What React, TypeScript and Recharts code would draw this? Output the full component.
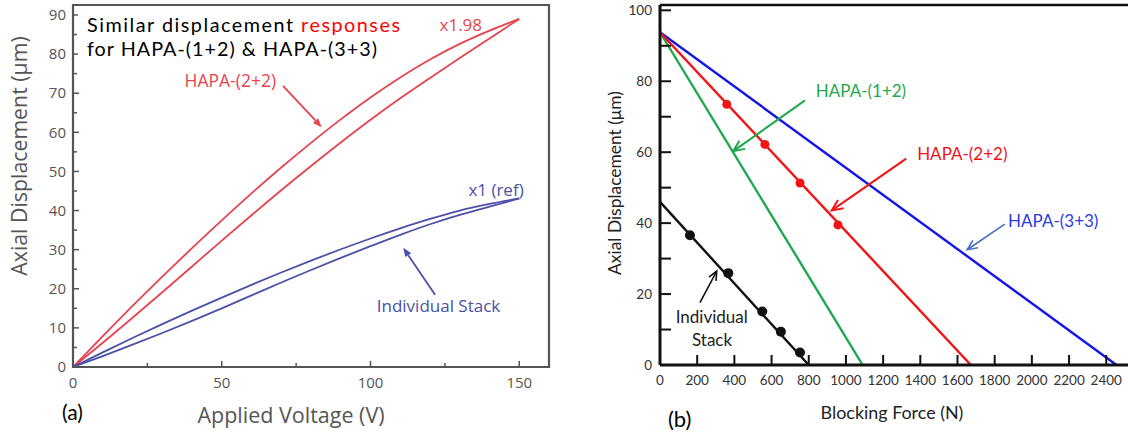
import React from 'react';
import { ComposedChart, Line, XAxis, YAxis, ReferenceLine, ReferenceDot, ReferenceArea } from 'recharts';

// ---------- Panel (a): displacement vs applied voltage ----------
const voltageTicks = [0, 25, 50, 75, 100, 125, 150];
const dispTicksA = [0, 5, 10, 15, 20, 25, 30, 35, 40, 45, 50, 55, 60, 65, 70, 75, 80, 85, 90];

const hapa22Rise: [number, number][] = [[0, 0], [10, 6.2], [20, 12.6], [30, 19.1], [40, 25.7], [50, 32.3], [60, 38.8], [70, 45.2], [80, 51.4], [90, 57.4], [100, 63.2], [110, 68.7], [120, 73.9], [130, 79.0], [140, 84.0], [150, 89.0]];
const hapa22Fall: [number, number][] = [[0, 0], [10, 7.9], [20, 15.6], [30, 23.1], [40, 30.4], [50, 37.5], [60, 44.4], [70, 51.0], [80, 57.3], [90, 63.3], [100, 68.9], [110, 74.0], [120, 78.6], [130, 82.6], [140, 86.0], [150, 89.0]];
const stackRise: [number, number][] = [[0, 0], [10, 2.8], [20, 5.7], [30, 8.7], [40, 11.8], [50, 15.0], [60, 18.3], [70, 21.6], [80, 24.8], [90, 27.9], [100, 30.9], [110, 33.8], [120, 36.5], [130, 38.9], [140, 41.0], [150, 43.1]];
const stackFall: [number, number][] = [[0, 0], [10, 3.75], [20, 7.4], [30, 10.95], [40, 14.4], [50, 17.75], [60, 21.0], [70, 24.15], [80, 27.2], [90, 30.1], [100, 32.85], [110, 35.45], [120, 37.85], [130, 40.0], [140, 41.7], [150, 43.1]];

// ---------- Panel (b): displacement vs blocking force ----------
const forceTicks = [0, 200, 400, 600, 800, 1000, 1200, 1400, 1600, 1800, 2000, 2200, 2400];
const dispTicksB = [0, 10, 20, 30, 40, 50, 60, 70, 80, 90, 100];

const hapa33Line: [number, number][] = [[0, 93.8], [2455, 0]];
const hapa22Line: [number, number][] = [[0, 93.8], [1672, 0]];
const hapa22Points: [number, number][] = [[359, 73.5], [564, 62.2], [753, 51.3], [957, 39.5]];
const hapa12Line: [number, number][] = [[0, 93.8], [1090, 0]];
const stackLine: [number, number][] = [[0, 46], [800, 0]];
const stackPoints: [number, number][] = [[161, 36.6], [367, 25.9], [550, 15.1], [650, 9.4], [753, 3.5]];

const toXY = (arr: [number, number][]) => arr.map(([x, y]) => ({ x, y }));

const A_RED = '#e5444f';
const A_BLUE = '#4a51a6';
const A_GRAY = '#555';
const B_BLUE = '#1414e8';
const B_RED = '#f01414';
const B_GREEN = '#1fa84e';
const B_BLACK = '#111';

const FONT_A = '"Open Sans", "Noto Sans", sans-serif';
const FONT_B = 'Lato, "Open Sans", sans-serif';

function makeArrow(color: string, width: number, head: 'solid' | 'open', len = 10, half = 4.5) {
  return (p: any) => {
    const { x1, y1, x2, y2 } = p;
    if ([x1, y1, x2, y2].some((v) => typeof v !== 'number' || isNaN(v))) return <g />;
    const a = Math.atan2(y2 - y1, x2 - x1);
    const c = Math.cos(a);
    const s = Math.sin(a);
    const bx = x2 - len * c;
    const by = y2 - len * s;
    const lx = bx - half * s;
    const ly = by + half * c;
    const rx = bx + half * s;
    const ry = by - half * c;
    return (
      <g>
        <line x1={x1} y1={y1} x2={head === 'solid' ? bx : x2} y2={head === 'solid' ? by : y2} stroke={color} strokeWidth={width} />
        {head === 'solid' ? (
          <polygon points={`${x2},${y2} ${lx},${ly} ${rx},${ry}`} fill={color} />
        ) : (
          <polyline points={`${lx},${ly} ${x2},${y2} ${rx},${ry}`} fill="none" stroke={color} strokeWidth={width} />
        )}
      </g>
    );
  };
}

function makeText(text: string, color: string, size: number, family: string, anchor: 'start' | 'middle' | 'end' = 'start') {
  return (p: any) => (
    <text x={p.cx} y={p.cy} dy="0.35em" fill={color} fontSize={size} fontFamily={family} textAnchor={anchor}>
      {text}
    </text>
  );
}

const XTickA = (props: any) => {
  const { x, y, payload } = props;
  const v = payload.value;
  const major = v % 50 === 0;
  return (
    <g>
      <line x1={x} x2={x} y1={y} y2={y - (major ? 6 : 4)} stroke={A_GRAY} strokeWidth={1.5} />
      {major && (
        <text x={x} y={y + 16} dy="0.35em" textAnchor="middle" fill={A_GRAY} fontSize={15} fontFamily={FONT_A}>
          {v}
        </text>
      )}
    </g>
  );
};

const YTickA = (props: any) => {
  const { x, y, payload } = props;
  const v = payload.value;
  const major = v % 10 === 0;
  return (
    <g>
      <line x1={x} x2={x + (major ? 6 : 4)} y1={y} y2={y} stroke={A_GRAY} strokeWidth={1.5} />
      {major && (
        <text x={x - 7} y={y} dy="0.35em" textAnchor="end" fill={A_GRAY} fontSize={15} fontFamily={FONT_A}>
          {v}
        </text>
      )}
    </g>
  );
};

const XTickB = (props: any) => {
  const { x, y, payload } = props;
  const v = payload.value;
  return (
    <g>
      <line x1={x} x2={x} y1={y} y2={y - 10} stroke={B_BLACK} strokeWidth={2} />
      <text x={x} y={y + 15} dy="0.35em" textAnchor="middle" fill="#333" fontSize={13.5} fontFamily={FONT_B}>
        {v}
      </text>
    </g>
  );
};

const YTickB = (props: any) => {
  const { x, y, payload } = props;
  const v = payload.value;
  const labeled = v % 20 === 0;
  return (
    <g>
      {v > 0 && <line x1={x} x2={x + 11} y1={y} y2={y} stroke={B_BLACK} strokeWidth={2} />}
      {labeled && (
        <text x={x - 8} y={y} dy="0.35em" textAnchor="end" fill="#333" fontSize={13.5} fontFamily={FONT_B}>
          {v}
        </text>
      )}
    </g>
  );
};

function PanelA() {
  const lineProps = { type: 'monotone' as const, dataKey: 'y', dot: false, isAnimationActive: false, strokeWidth: 1.8 };
  return (
    <ComposedChart width={560} height={434} margin={{ top: 5, right: 11, bottom: 36, left: 0 }}>
      <XAxis type="number" dataKey="x" domain={[0, 160]} ticks={voltageTicks} interval={0} allowDataOverflow axisLine={false} tickLine={false} tickSize={0} tickMargin={0} height={31} tick={<XTickA />} />
      <YAxis type="number" dataKey="y" domain={[0, 92.55]} ticks={dispTicksA} interval={0} allowDataOverflow axisLine={false} tickLine={false} tickSize={0} tickMargin={0} width={73} tick={<YTickA />} />
      <ReferenceArea x1={0} x2={160} y1={0} y2={92.55} fill="none" stroke={A_GRAY} strokeWidth={2.2} />
      <Line data={toXY(hapa22Rise)} stroke={A_RED} {...lineProps} />
      <Line data={toXY(hapa22Fall)} stroke={A_RED} {...lineProps} />
      <Line data={toXY(stackRise)} stroke={A_BLUE} {...lineProps} />
      <Line data={toXY(stackFall)} stroke={A_BLUE} {...lineProps} />
      <ReferenceLine segment={[{ x: 70.6, y: 71.9 }, { x: 83.6, y: 61.3 }]} shape={makeArrow(A_RED, 1.8, 'solid', 9, 3.5)} />
      <ReferenceLine segment={[{ x: 121.7, y: 18.5 }, { x: 111.0, y: 30.5 }]} shape={makeArrow(A_BLUE, 1.8, 'solid', 9, 3.5)} />
      <ReferenceDot x={123.2} y={87.4} r={0} shape={makeText('x1.98', A_RED, 17, FONT_A)} />
      <ReferenceDot x={37.5} y={73.1} r={0} shape={makeText('HAPA-(2+2)', A_RED, 17.5, FONT_A)} />
      <ReferenceDot x={132.9} y={45.3} r={0} shape={makeText('x1 (ref)', A_BLUE, 17, FONT_A)} />
      <ReferenceDot x={102.1} y={15.7} r={0} shape={makeText('Individual Stack', A_BLUE, 17, FONT_A)} />
    </ComposedChart>
  );
}

function PanelB() {
  const lineProps = { type: 'linear' as const, dataKey: 'y', dot: false, isAnimationActive: false, strokeWidth: 2.4 };
  return (
    <ComposedChart width={528} height={434} margin={{ top: 5, right: 0, bottom: 39, left: 0 }}>
      <XAxis type="number" dataKey="x" domain={[0, 2517]} ticks={forceTicks} interval={0} allowDataOverflow axisLine={{ stroke: B_BLACK, strokeWidth: 3 }} tickLine={false} tickSize={0} tickMargin={0} height={30} tick={<XTickB />} />
      <YAxis type="number" dataKey="y" domain={[0, 101.5]} ticks={dispTicksB} interval={0} allowDataOverflow axisLine={{ stroke: B_BLACK, strokeWidth: 3 }} tickLine={false} tickSize={0} tickMargin={0} width={60} tick={<YTickB />} />
      <ReferenceLine y={101.5} stroke={B_BLACK} strokeWidth={2.6} />
      <Line data={toXY(hapa33Line)} stroke={B_BLUE} {...lineProps} />
      <Line data={toXY(hapa12Line)} stroke={B_GREEN} {...lineProps} />
      <Line data={toXY(hapa22Line)} stroke={B_RED} {...lineProps} />
      <Line data={toXY(stackLine)} stroke={B_BLACK} {...lineProps} />
      <Line data={toXY(hapa22Points)} stroke="none" dataKey="y" isAnimationActive={false} dot={{ r: 4.5, fill: B_RED, stroke: B_RED, strokeWidth: 0 }} />
      <Line data={toXY(stackPoints)} stroke="none" dataKey="y" isAnimationActive={false} dot={{ r: 5, fill: B_BLACK, stroke: B_BLACK, strokeWidth: 0 }} />
      <ReferenceLine segment={[{ x: 780, y: 74.6 }, { x: 394, y: 60.3 }]} shape={makeArrow(B_GREEN, 2, 'open', 11, 5)} />
      <ReferenceLine segment={[{ x: 1324, y: 58.2 }, { x: 924, y: 43.6 }]} shape={makeArrow(B_RED, 2, 'open', 11, 5)} />
      <ReferenceLine segment={[{ x: 1854, y: 39.7 }, { x: 1652, y: 32.5 }]} shape={makeArrow('#4472c4', 1.6, 'open', 10, 4.5)} />
      <ReferenceLine segment={[{ x: 215, y: 17.6 }, { x: 305, y: 26.5 }]} shape={makeArrow(B_BLACK, 1.6, 'open', 9, 4)} />
      <ReferenceDot x={838} y={77.3} r={0} shape={makeText('HAPA-(1+2)', B_GREEN, 17, FONT_B)} />
      <ReferenceDot x={1383} y={59.4} r={0} shape={makeText('HAPA-(2+2)', B_RED, 17, FONT_B)} />
      <ReferenceDot x={1872} y={40.6} r={0} shape={makeText('HAPA-(3+3)', '#2b3be0', 17, FONT_B)} />
      <ReferenceDot x={278} y={13.5} r={0} shape={makeText('Individual', '#222', 17, FONT_B, 'middle')} />
      <ReferenceDot x={280} y={7.0} r={0} shape={makeText('Stack', '#222', 17, FONT_B, 'middle')} />
    </ComposedChart>
  );
}

export default function App() {
  return (
    <div style={{ position: 'absolute', left: 0, top: 0, width: 1128, height: 434, background: '#fff', overflow: 'hidden' }}>
      <div style={{ position: 'absolute', left: 0, top: 0 }}>
        <PanelA />
      </div>
      <div style={{ position: 'absolute', left: 600, top: 0 }}>
        <PanelB />
      </div>
      <svg width={1128} height={434} style={{ position: 'absolute', left: 0, top: 0, pointerEvents: 'none' }}>
        {/* Panel (a) text box */}
        <rect x={78} y={7} width={328} height={55} fill="#fff" />
        <text x={87} y={25} dy="0.35em" fontSize={19.8} fontFamily={FONT_B} fill="#000" textLength={313} lengthAdjust="spacing">
          Similar displacement <tspan fill="#ff0000">responses</tspan>
        </text>
        <text x={87} y={49.5} dy="0.35em" fontSize={19.8} fontFamily={FONT_B} fill="#000" textLength={290} lengthAdjust="spacing">
          for HAPA-(1+2) &amp; HAPA-(3+3)
        </text>
        {/* Panel (a) axis titles */}
        <text x={20} y={156} dy="0.35em" transform="rotate(-90 20 156)" textAnchor="middle" fontSize={21.3} fontFamily={FONT_A} fill={A_GRAY}>
          Axial Displacement (μm)
        </text>
        <text x={291} y={415} dy="0.35em" textAnchor="middle" fontSize={21.5} fontFamily={FONT_A} fill={A_GRAY}>
          Applied Voltage (V)
        </text>
        <text x={62} y={413} dy="0.35em" fontSize={21} fontFamily={FONT_B} fill="#000">
          (a)
        </text>
        {/* Panel (b) axis titles */}
        <text x={615} y={183} dy="0.35em" transform="rotate(-90 615 183)" textAnchor="middle" fontSize={17.4} fontFamily={FONT_B} fill="#222">
          Axial Displacement (μm)
        </text>
        <text x={892} y={413} dy="0.35em" textAnchor="middle" fontSize={17.9} fontFamily={FONT_B} fill="#222">
          Blocking Force (N)
        </text>
        <text x={668} y={419} dy="0.35em" fontSize={22} fontFamily={FONT_B} fill="#000">
          (b)
        </text>
      </svg>
    </div>
  );
}
